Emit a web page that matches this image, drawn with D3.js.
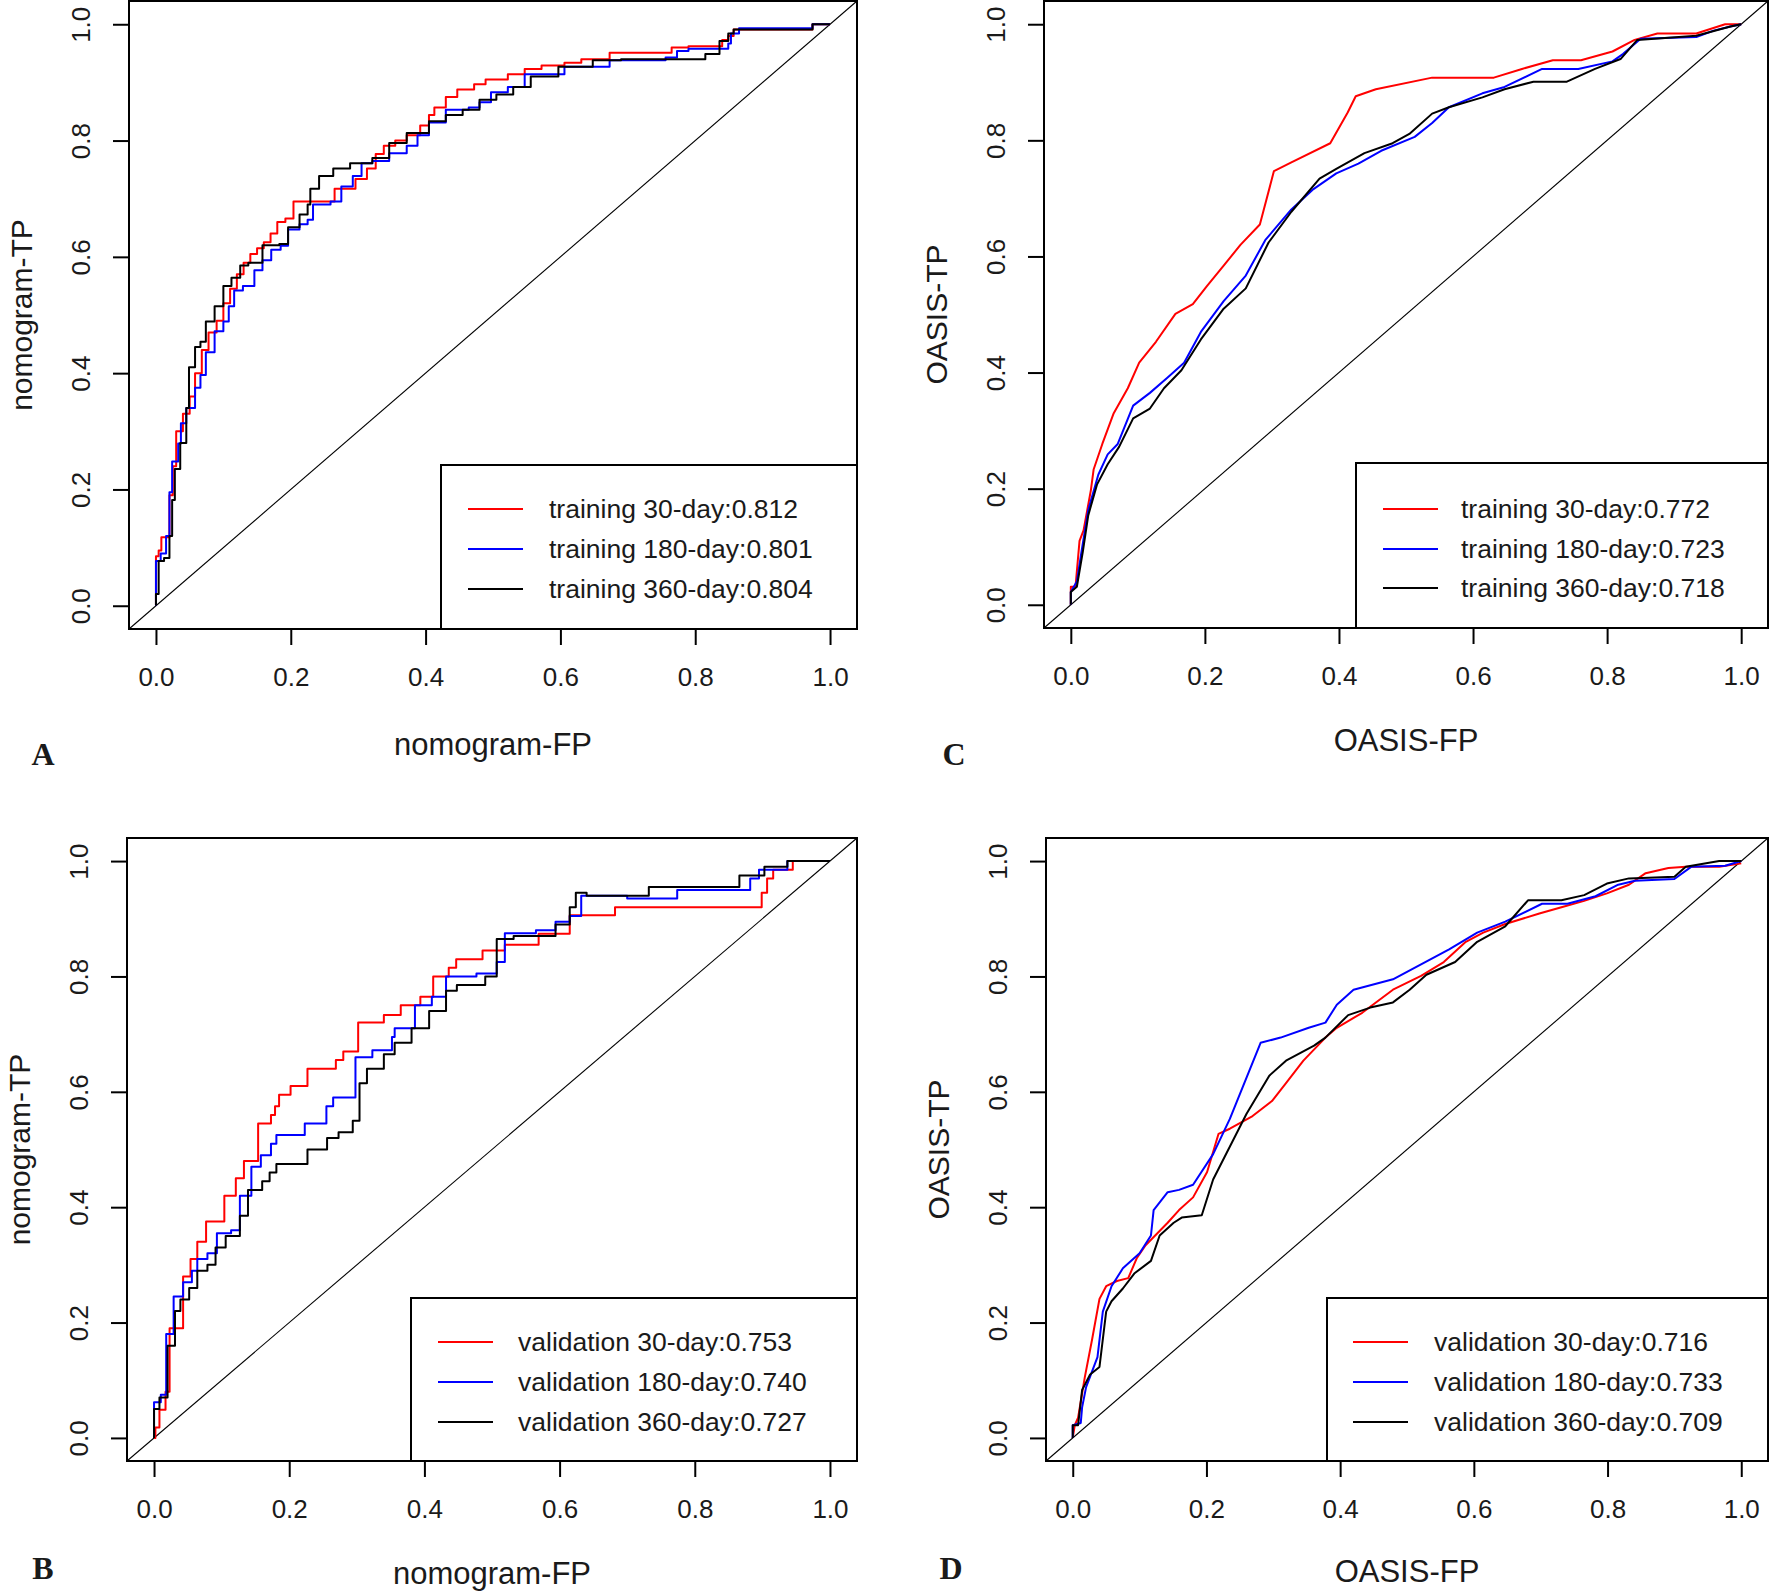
<!DOCTYPE html>
<html>
<head>
<meta charset="utf-8">
<script src="https://cdn.jsdelivr.net/npm/d3@7"></script>
<style>
  html, body { margin: 0; padding: 0; background: #fff; }
  svg { display: block; }
  text { font-family: "Liberation Sans", Arial, sans-serif; fill: #1a1a1a; }
</style>
</head>
<body>
<svg id="chart" width="1770" height="1593"></svg>
<script>
// ---------------- data ----------------
const tickValues = [0, 0.2, 0.4, 0.6, 0.8, 1.0];
const tickLabels = ["0.0", "0.2", "0.4", "0.6", "0.8", "1.0"];
const seriesColors = ["#ff0000", "#0000ff", "#000000"];

const legendA = ["training 30-day:0.812", "training 180-day:0.801", "training 360-day:0.804"];
const legendB = ["validation 30-day:0.753", "validation 180-day:0.740", "validation 360-day:0.727"];
const legendC = ["training 30-day:0.772", "training 180-day:0.723", "training 360-day:0.718"];
const legendD = ["validation 30-day:0.716", "validation 180-day:0.733", "validation 360-day:0.709"];

// Panel A (nomogram, training) - step ROC curves: [FP, TP]
const A_30 = [[0,0],[0,0.085],[0.004,0.095],[0.008,0.118],[0.02,0.19],[0.025,0.24],[0.03,0.30],[0.04,0.33],[0.05,0.36],[0.058,0.40],[0.068,0.44],[0.078,0.47],[0.09,0.49],[0.10,0.52],[0.11,0.545],[0.12,0.57],[0.13,0.59],[0.14,0.605],[0.15,0.615],[0.16,0.625],[0.17,0.64],[0.18,0.66],[0.192,0.666],[0.204,0.695],[0.265,0.717],[0.296,0.734],[0.313,0.752],[0.326,0.777],[0.338,0.791],[0.355,0.80],[0.372,0.809],[0.392,0.826],[0.405,0.844],[0.413,0.857],[0.43,0.875],[0.447,0.888],[0.472,0.897],[0.489,0.905],[0.522,0.914],[0.547,0.923],[0.572,0.929],[0.606,0.934],[0.631,0.94],[0.673,0.951],[0.765,0.96],[0.79,0.962],[0.84,0.973],[0.849,0.98],[0.857,0.991],[0.974,1],[1,1]];
const A_180 = [[0,0],[0,0.077],[0.007,0.09],[0.015,0.12],[0.02,0.195],[0.024,0.248],[0.033,0.279],[0.037,0.314],[0.045,0.34],[0.058,0.375],[0.066,0.397],[0.074,0.436],[0.087,0.472],[0.10,0.489],[0.108,0.515],[0.116,0.542],[0.129,0.55],[0.146,0.577],[0.158,0.594],[0.171,0.612],[0.185,0.619],[0.196,0.647],[0.213,0.656],[0.225,0.664],[0.233,0.69],[0.259,0.695],[0.275,0.721],[0.292,0.739],[0.305,0.761],[0.321,0.765],[0.346,0.778],[0.372,0.791],[0.388,0.809],[0.405,0.831],[0.43,0.853],[0.464,0.857],[0.48,0.866],[0.497,0.883],[0.522,0.892],[0.547,0.914],[0.606,0.927],[0.673,0.938],[0.756,0.943],[0.773,0.954],[0.79,0.958],[0.849,0.967],[0.853,0.984],[0.865,0.993],[0.974,1],[1,1]];
const A_360 = [[0,0],[0,0.02],[0.004,0.077],[0.012,0.082],[0.02,0.12],[0.024,0.182],[0.028,0.235],[0.036,0.28],[0.045,0.34],[0.049,0.41],[0.058,0.445],[0.066,0.454],[0.074,0.489],[0.087,0.515],[0.10,0.55],[0.112,0.564],[0.125,0.585],[0.137,0.59],[0.158,0.62],[0.183,0.622],[0.196,0.651],[0.213,0.673],[0.225,0.69],[0.229,0.717],[0.242,0.739],[0.263,0.752],[0.288,0.761],[0.321,0.77],[0.346,0.796],[0.372,0.813],[0.405,0.833],[0.43,0.844],[0.455,0.853],[0.48,0.87],[0.505,0.879],[0.53,0.892],[0.556,0.91],[0.597,0.927],[0.648,0.938],[0.69,0.94],[0.815,0.949],[0.836,0.971],[0.849,0.984],[0.857,0.991],[0.974,1],[1,1]];

// Panel B (nomogram, validation) - step ROC curves
const B_30 = [[0,0],[0.002,0.018],[0.008,0.049],[0.017,0.08],[0.023,0.19],[0.043,0.28],[0.054,0.31],[0.064,0.34],[0.077,0.375],[0.104,0.42],[0.121,0.45],[0.133,0.48],[0.154,0.545],[0.173,0.56],[0.179,0.575],[0.185,0.595],[0.202,0.61],[0.227,0.64],[0.269,0.655],[0.28,0.67],[0.302,0.72],[0.34,0.733],[0.365,0.75],[0.394,0.765],[0.413,0.8],[0.436,0.815],[0.447,0.83],[0.486,0.845],[0.519,0.855],[0.569,0.874],[0.615,0.906],[0.682,0.92],[0.899,0.945],[0.907,0.97],[0.916,0.985],[0.945,1],[1,1]];
const B_180 = [[0,0],[0,0.062],[0.01,0.075],[0.018,0.18],[0.029,0.245],[0.043,0.27],[0.056,0.29],[0.064,0.31],[0.079,0.32],[0.093,0.355],[0.114,0.36],[0.127,0.42],[0.144,0.47],[0.158,0.49],[0.173,0.51],[0.181,0.525],[0.223,0.545],[0.255,0.575],[0.265,0.59],[0.298,0.66],[0.323,0.672],[0.352,0.695],[0.356,0.71],[0.386,0.75],[0.411,0.765],[0.432,0.8],[0.477,0.805],[0.507,0.825],[0.519,0.875],[0.565,0.88],[0.594,0.895],[0.615,0.905],[0.632,0.94],[0.70,0.935],[0.774,0.95],[0.882,0.97],[0.895,0.985],[0.937,1],[1,1]];
const B_360 = [[0,0],[0,0.05],[0.008,0.07],[0.02,0.16],[0.031,0.22],[0.039,0.24],[0.052,0.26],[0.064,0.29],[0.079,0.30],[0.091,0.33],[0.106,0.35],[0.127,0.385],[0.139,0.43],[0.16,0.445],[0.171,0.46],[0.181,0.475],[0.227,0.50],[0.256,0.52],[0.273,0.53],[0.294,0.55],[0.304,0.615],[0.315,0.64],[0.34,0.665],[0.356,0.685],[0.381,0.71],[0.407,0.74],[0.432,0.775],[0.448,0.785],[0.49,0.80],[0.507,0.865],[0.532,0.87],[0.594,0.89],[0.615,0.92],[0.624,0.945],[0.64,0.94],[0.732,0.955],[0.866,0.975],[0.903,0.99],[0.937,1],[1,1]];

// Panel C (OASIS, training) - ROC curves
const C_30 = [[0,0],[0,0.031],[0.007,0.031],[0.013,0.11],[0.019,0.128],[0.03,0.198],[0.034,0.233],[0.047,0.277],[0.064,0.33],[0.085,0.373],[0.102,0.417],[0.127,0.453],[0.156,0.501],[0.182,0.518],[0.203,0.549],[0.228,0.584],[0.253,0.62],[0.282,0.655],[0.303,0.747],[0.329,0.762],[0.387,0.795],[0.413,0.848],[0.425,0.876],[0.455,0.888],[0.539,0.908],[0.631,0.908],[0.673,0.923],[0.719,0.938],[0.761,0.938],[0.808,0.953],[0.841,0.973],[0.875,0.984],[0.933,0.984],[0.976,1],[1,1]];
const C_180 = [[0,0],[0,0.022],[0.009,0.04],[0.016,0.092],[0.026,0.163],[0.041,0.224],[0.055,0.259],[0.07,0.277],[0.093,0.343],[0.118,0.365],[0.144,0.391],[0.169,0.417],[0.194,0.47],[0.228,0.523],[0.261,0.567],[0.29,0.628],[0.329,0.681],[0.362,0.716],[0.396,0.743],[0.429,0.76],[0.463,0.782],[0.513,0.806],[0.539,0.83],[0.564,0.857],[0.614,0.881],[0.647,0.892],[0.703,0.923],[0.757,0.923],[0.808,0.936],[0.824,0.949],[0.85,0.975],[0.933,0.978],[0.959,0.989],[0.984,0.996],[1,1]];
const C_360 = [[0,0],[0,0.022],[0.009,0.031],[0.018,0.092],[0.026,0.154],[0.039,0.207],[0.055,0.242],[0.072,0.272],[0.093,0.321],[0.118,0.338],[0.139,0.373],[0.165,0.404],[0.194,0.457],[0.228,0.51],[0.261,0.545],[0.295,0.624],[0.329,0.677],[0.371,0.734],[0.396,0.751],[0.438,0.778],[0.48,0.795],[0.505,0.811],[0.539,0.846],[0.564,0.857],[0.614,0.874],[0.647,0.888],[0.69,0.901],[0.74,0.901],[0.782,0.923],[0.82,0.94],[0.845,0.973],[0.933,0.98],[0.984,0.996],[1,1]];

// Panel D (OASIS, validation) - ROC curves
const D_30 = [[0,0],[0.003,0.022],[0.008,0.035],[0.018,0.105],[0.029,0.171],[0.04,0.241],[0.05,0.263],[0.066,0.272],[0.083,0.277],[0.096,0.312],[0.109,0.334],[0.142,0.373],[0.159,0.395],[0.18,0.417],[0.201,0.461],[0.218,0.527],[0.235,0.536],[0.269,0.558],[0.298,0.584],[0.319,0.615],[0.345,0.654],[0.378,0.694],[0.395,0.711],[0.433,0.737],[0.479,0.777],[0.521,0.801],[0.555,0.825],[0.588,0.86],[0.614,0.876],[0.647,0.891],[0.698,0.909],[0.731,0.92],[0.765,0.931],[0.799,0.944],[0.832,0.959],[0.857,0.979],[0.891,0.988],[0.917,0.99],[0.967,0.99],[1,0.996]];
const D_180 = [[0,0],[0,0.022],[0.012,0.026],[0.014,0.053],[0.02,0.088],[0.037,0.14],[0.045,0.219],[0.058,0.263],[0.075,0.294],[0.1,0.32],[0.117,0.351],[0.121,0.395],[0.142,0.426],[0.159,0.43],[0.18,0.439],[0.21,0.492],[0.235,0.553],[0.281,0.685],[0.311,0.694],[0.353,0.711],[0.378,0.72],[0.395,0.751],[0.42,0.777],[0.479,0.795],[0.521,0.821],[0.563,0.847],[0.605,0.876],[0.647,0.895],[0.702,0.926],[0.74,0.926],[0.782,0.939],[0.816,0.959],[0.841,0.966],[0.9,0.969],[0.925,0.99],[0.976,0.992],[1,1]];
const D_360 = [[0,0],[0,0.022],[0.008,0.022],[0.014,0.083],[0.026,0.11],[0.04,0.123],[0.05,0.219],[0.058,0.237],[0.075,0.259],[0.092,0.285],[0.117,0.307],[0.13,0.351],[0.151,0.373],[0.163,0.382],[0.193,0.386],[0.21,0.448],[0.26,0.562],[0.294,0.628],[0.319,0.654],[0.361,0.68],[0.378,0.694],[0.412,0.733],[0.445,0.746],[0.479,0.755],[0.504,0.777],[0.529,0.803],[0.572,0.825],[0.605,0.86],[0.647,0.887],[0.681,0.932],[0.731,0.932],[0.765,0.941],[0.799,0.961],[0.832,0.97],[0.9,0.973],[0.917,0.99],[0.967,1],[1,1]];

// ---------------- layout ----------------
const panels = [
  { letter: "A", xTitle: "nomogram-FP", yTitle: "nomogram-TP", series: [A_30, A_180, A_360], legend: legendA, step: true,
    frame: { x0: 129, x1: 857, y0: 1, y1: 629 }, leg: { x0: 441, y0: 465, lineX: 468, textX: 549, rows: [509, 549, 589] },
    letterPos: [43, 754], xTitleY: 744 },
  { letter: "C", xTitle: "OASIS-FP", yTitle: "OASIS-TP", series: [C_30, C_180, C_360], legend: legendC, step: false,
    frame: { x0: 1044, x1: 1768, y0: 1, y1: 628 }, leg: { x0: 1356, y0: 463, lineX: 1383, textX: 1461, rows: [509, 549, 588] },
    letterPos: [954, 754], xTitleY: 740 },
  { letter: "B", xTitle: "nomogram-FP", yTitle: "nomogram-TP", series: [B_30, B_180, B_360], legend: legendB, step: true,
    frame: { x0: 127, x1: 857, y0: 838, y1: 1461 }, leg: { x0: 411, y0: 1298, lineX: 438, textX: 518, rows: [1342, 1382, 1422] },
    letterPos: [43, 1568], xTitleY: 1573 },
  { letter: "D", xTitle: "OASIS-FP", yTitle: "OASIS-TP", series: [D_30, D_180, D_360], legend: legendD, step: false,
    frame: { x0: 1046, x1: 1768, y0: 838, y1: 1461 }, leg: { x0: 1327, y0: 1298, lineX: 1353, textX: 1434, rows: [1342, 1382, 1422] },
    letterPos: [951, 1568], xTitleY: 1571 }
];

const svg = d3.select("#chart");
svg.append("rect").attr("width", 1770).attr("height", 1593).attr("fill", "#fff");

panels.forEach(p => {
  const f = p.frame;
  const x = d3.scaleLinear().domain([-0.04, 1.04]).range([f.x0, f.x1]);
  const y = d3.scaleLinear().domain([-0.04, 1.04]).range([f.y1, f.y0]);
  const g = svg.append("g");

  // diagonal reference line
  g.append("line")
    .attr("x1", x(-0.04)).attr("y1", y(-0.04)).attr("x2", x(1.04)).attr("y2", y(1.04))
    .attr("stroke", "#000").attr("stroke-width", 1.1);

  // ROC curves
  const line = d3.line().x(d => x(d[0])).y(d => y(d[1]))
    .curve(p.step ? d3.curveStepAfter : d3.curveLinear);
  p.series.forEach((s, i) => {
    g.append("path").datum(s).attr("d", line)
      .attr("fill", "none").attr("stroke", seriesColors[i])
      .attr("stroke-width", 2).attr("stroke-linejoin", "round");
  });

  // x axis
  const xAxis = d3.axisBottom(x).tickValues(tickValues).tickSize(16).tickPadding(23)
    .tickFormat((d, i) => tickLabels[i]);
  const gx = g.append("g").attr("transform", `translate(0,${f.y1})`).call(xAxis);
  gx.select(".domain").remove();
  gx.selectAll(".tick line").attr("stroke", "#000").attr("stroke-width", 2);
  gx.selectAll(".tick text").attr("font-size", 26).attr("fill", "#1a1a1a")
    .attr("font-family", "Liberation Sans, Arial, sans-serif").attr("dy", "0.71em");

  // y axis
  const yAxis = d3.axisLeft(y).tickValues(tickValues).tickSize(16).tickPadding(12)
    .tickFormat((d, i) => tickLabels[i]);
  const gy = g.append("g").attr("transform", `translate(${f.x0},0)`).call(yAxis);
  gy.select(".domain").remove();
  gy.selectAll(".tick line").attr("stroke", "#000").attr("stroke-width", 2);
  gy.selectAll(".tick text").attr("font-size", 26).attr("fill", "#1a1a1a")
    .attr("font-family", "Liberation Sans, Arial, sans-serif")
    .attr("x", null).attr("dy", null)
    .attr("text-anchor", "middle")
    .attr("transform", "translate(-48,0) rotate(-90)")
    .attr("dominant-baseline", "central");

  // frame
  g.append("rect").attr("x", f.x0).attr("y", f.y0)
    .attr("width", f.x1 - f.x0).attr("height", f.y1 - f.y0)
    .attr("fill", "none").attr("stroke", "#000").attr("stroke-width", 2);

  // legend
  const L = p.leg;
  g.append("rect").attr("x", L.x0).attr("y", L.y0)
    .attr("width", f.x1 - L.x0).attr("height", f.y1 - L.y0)
    .attr("fill", "#fff").attr("stroke", "#000").attr("stroke-width", 2);
  p.legend.forEach((t, i) => {
    g.append("line").attr("x1", L.lineX).attr("x2", L.lineX + 55)
      .attr("y1", L.rows[i]).attr("y2", L.rows[i])
      .attr("stroke", seriesColors[i]).attr("stroke-width", 2);
    g.append("text").attr("x", L.textX).attr("y", L.rows[i])
      .attr("dominant-baseline", "central").attr("font-size", 26.5).text(t);
  });

  // axis titles
  g.append("text").attr("x", (f.x0 + f.x1) / 2).attr("y", p.xTitleY)
    .attr("text-anchor", "middle").attr("dominant-baseline", "central")
    .attr("font-size", 31).text(p.xTitle);
  g.append("text")
    .attr("transform", `translate(${f.x0 - 108},${(f.y0 + f.y1) / 2}) rotate(-90)`)
    .attr("text-anchor", "middle").attr("dominant-baseline", "central")
    .attr("font-size", 30).text(p.yTitle);

  // panel letter
  g.append("text").attr("x", p.letterPos[0]).attr("y", p.letterPos[1])
    .attr("text-anchor", "middle").attr("dominant-baseline", "central")
    .style("font-family", "'Liberation Serif', 'Times New Roman', serif")
    .attr("font-weight", "bold").attr("font-size", 32).text(p.letter);
});
</script>
</body>
</html>
